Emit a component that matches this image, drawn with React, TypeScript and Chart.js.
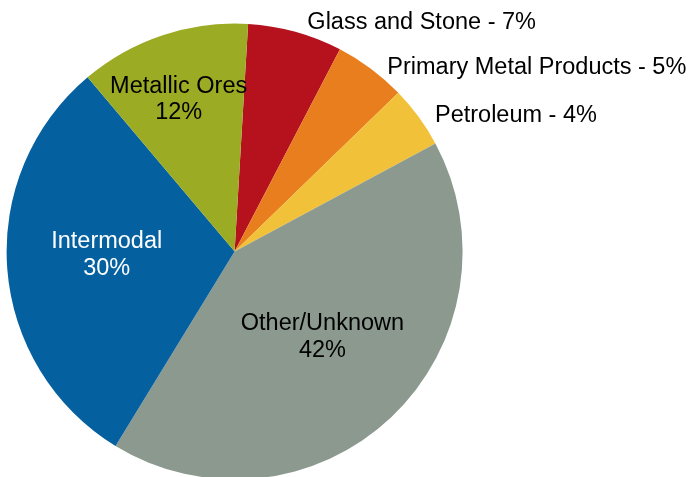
import React, { useEffect, useRef } from "react";
import { Chart, registerables } from "chart.js";

Chart.register(...registerables);

const categories = [
  "Glass and Stone",
  "Primary Metal Products",
  "Petroleum",
  "Other/Unknown",
  "Intermodal",
  "Metallic Ores",
];
const shares = [6.7, 5.1, 4.4, 41.6, 30.1, 12.1];
const colors = ["#B5121E", "#E87E1E", "#F1C13A", "#8B998E", "#0560A0", "#9BAB23"];

// label styling: inside (two lines, centered) or outside (one line, left aligned)
const labelInside = [false, false, false, true, true, true];
const labelRadius = [1.0605, 1.055, 1.0677, 0.531, 0.561, 0.718];
const labelShiftDeg = [2.05, 2.7, 1.6, -3.1, 3.6, -1.6];
const labelColor = ["#000", "#000", "#000", "#000", "#fff", "#000"];

const FONT_SIZE = 23.5;
const FONT = `${FONT_SIZE}px "Liberation Sans", Arial, sans-serif`;
const LINE_H = 26.6;

const labelPlugin = {
  id: "sliceLabels",
  afterDatasetsDraw(chart: any) {
    const ctx = chart.ctx;
    const meta = chart.getDatasetMeta(0);
    const values = chart.data.datasets[0].data as number[];
    ctx.save();
    ctx.font = FONT;
    ctx.textBaseline = "alphabetic";
    meta.data.forEach((arc: any, i: number) => {
      const p = arc.getProps(["x", "y", "startAngle", "endAngle", "outerRadius"], true);
      const mid = (p.startAngle + p.endAngle) / 2 + (labelShiftDeg[i] * Math.PI) / 180;
      const r = p.outerRadius * labelRadius[i];
      const ax = p.x + r * Math.cos(mid);
      const ay = p.y + r * Math.sin(mid);
      const pct = Math.round(values[i]) + "%";
      const capMid = 0.358 * FONT_SIZE;
      ctx.fillStyle = labelColor[i];
      if (labelInside[i]) {
        ctx.textAlign = "center";
        ctx.fillText(categories[i], ax, ay - LINE_H / 2 + capMid);
        ctx.fillText(pct, ax, ay + LINE_H / 2 + capMid);
      } else {
        ctx.textAlign = "left";
        ctx.fillText(`${categories[i]} - ${pct}`, ax, ay + capMid);
      }
    });
    ctx.restore();
  },
};

export default function App() {
  const ref = useRef<HTMLCanvasElement | null>(null);
  useEffect(() => {
    if (!ref.current) return;
    const chart = new Chart(ref.current, {
      type: "pie",
      data: {
        labels: categories,
        datasets: [
          {
            data: shares,
            backgroundColor: colors,
            borderWidth: 0,
          },
        ],
      },
      options: {
        responsive: false,
        animation: false,
        devicePixelRatio: 1,
        rotation: 3.4,
        layout: { padding: { left: 6.6, right: 229.4, top: 23.5, bottom: 23.5 } },
        plugins: {
          legend: { display: false },
          tooltip: { enabled: false },
        },
      },
      plugins: [labelPlugin],
    });
    return () => chart.destroy();
  }, []);
  return (
    <div
      style={{
        position: "fixed",
        left: 0,
        top: 0,
        width: 692,
        height: 477,
        overflow: "hidden",
        background: "#fff",
      }}
    >
      <canvas ref={ref} width={692} height={503} style={{ display: "block" }} />
    </div>
  );
}
